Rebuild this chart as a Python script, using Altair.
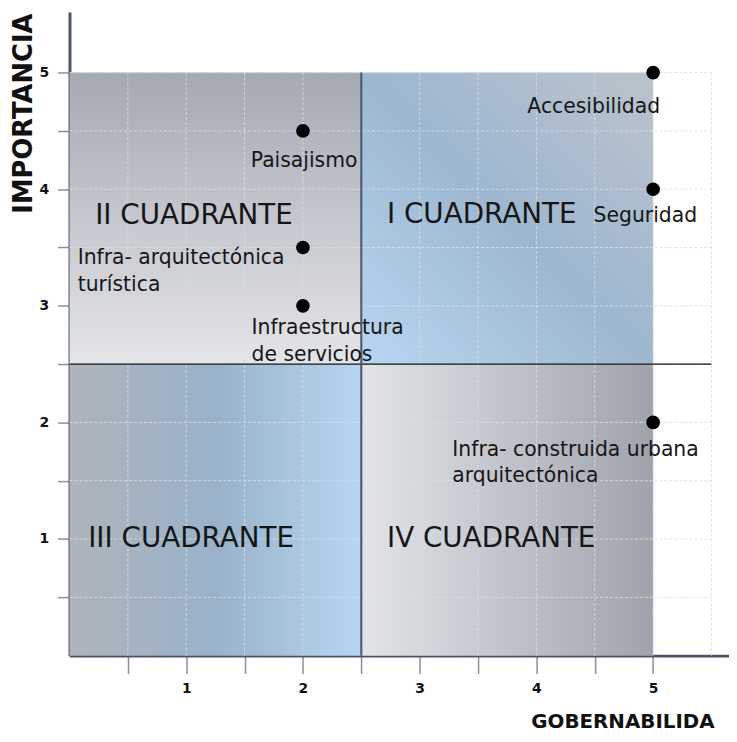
import altair as alt
import pandas as pd

# ---- data ----
point_names = ["Paisajismo", "Infra- arquitectónica turística", "Infraestructura de servicios",
               "Accesibilidad", "Seguridad", "Infra- construida urbana arquitectónica"]
gobernabilidad = [2, 2, 2, 5, 5, 5]
importancia = [4.5, 3.5, 3, 5, 4, 2]

# label anchor positions (data units)
label_text = ["Paisajismo", "Infra- arquitectónica\nturística", "Infraestructura\nde servicios",
              "Accesibilidad", "Seguridad", "Infra- construida urbana\narquitectónica"]
label_x = [2.01, 0.07, 1.56, 5.06, 4.49, 3.28]
label_y = [4.19, 3.36, 2.76, 4.65, 3.72, 1.715]
label_align = ["center", "left", "left", "right", "left", "left"]

quad_names = ["I CUADRANTE", "II CUADRANTE", "III CUADRANTE", "IV CUADRANTE"]
quad_x0 = [2.5, 0, 0, 2.5]
quad_x1 = [5, 2.5, 2.5, 5]
quad_y0 = [2.5, 2.5, 0, 0]
quad_y1 = [5, 5, 2.5, 2.5]
quad_label_x = [2.72, 0.22, 0.16, 2.72]
quad_label_y = [3.71, 3.70, 0.934, 0.934]

grid_v = [0.5, 1, 1.5, 2, 2.5, 3, 3.5, 4, 4.5, 5, 5.5]
grid_h = [0.5, 1, 1.5, 2, 2.5, 3, 3.5, 4, 4.5, 5]
grid_x_max = 5.5
grid_y_max = 5
divider = 2.5

tick_vals_x = [0.5, 1, 1.5, 2, 2.5, 3, 3.5, 4, 4.5, 5]
tick_vals_y = [0.5, 1, 1.5, 2, 2.5, 3, 3.5, 4, 4.5, 5]
x_domain = [0, 5.65]
y_domain = [0, 5.52]

# ---- tables ----
pts = pd.DataFrame({"name": point_names, "x": gobernabilidad, "y": importancia})
labs = pd.DataFrame({"text": label_text, "x": label_x, "y": label_y, "align": label_align})
quads = pd.DataFrame({"name": quad_names, "x0": quad_x0, "x1": quad_x1, "y0": quad_y0, "y1": quad_y1,
                      "lx": quad_label_x, "ly": quad_label_y})
gv = pd.DataFrame({"v": grid_v, "lo": 0, "hi": grid_y_max})
gh = pd.DataFrame({"v": grid_h, "lo": 0, "hi": grid_x_max})
div_h = pd.DataFrame({"y": [divider], "x0": [0], "x1": [grid_x_max]})
div_v = pd.DataFrame({"x": [divider], "y0": [0], "y1": [grid_y_max]})

AX = "#4a5466"
TEXTC = "#161616"
FONT = "DejaVu Sans"
LBL = "datum.value % 1 === 0 ? format(datum.value, 'd') : ''"

xs = alt.Scale(domain=x_domain, nice=False, zero=False)
ys = alt.Scale(domain=y_domain, nice=False, zero=False)

x_axis = alt.Axis(values=tick_vals_x, labelExpr=LBL,
                  tickSize=18, tickColor="#8a9099", tickWidth=1.5, domainColor=AX, domainWidth=3,
                  grid=False, labelFont=FONT, labelFontWeight="bold", labelFontSize=14, labelColor="#111",
                  labelPadding=8, title="GOBERNABILIDA", titleFont=FONT, titleFontSize=20,
                  titleFontWeight="bold", titleColor="#111", titleAlign="right", titleAnchor="end",
                  titleX=650, titleY=72, titleBaseline="alphabetic")
y_axis = alt.Axis(values=tick_vals_y, labelExpr=LBL,
                  tickSize=12, tickColor="#8a9099", tickWidth=1.5, domainColor=AX, domainWidth=3,
                  grid=False, labelFont=FONT, labelFontWeight="bold", labelFontSize=14, labelColor="#111",
                  labelPadding=9, title="IMPORTANCIA", titleFont=FONT, titleFontSize=26,
                  titleFontWeight="bold", titleColor="#111", titleAlign="right", titleAngle=270,
                  titleX=-46, titleY=1, titleBaseline="middle")

gradients = {
    "I CUADRANTE": {"gradient": "linear", "x1": 0, "y1": 1, "x2": 1, "y2": 0,
                    "stops": [{"offset": 0, "color": "#b8d6f2"}, {"offset": 0.5, "color": "#9db7d1"},
                              {"offset": 1, "color": "#bcc3cb"}]},
    "II CUADRANTE": {"gradient": "linear", "x1": 0, "y1": 0, "x2": 0, "y2": 1,
                     "stops": [{"offset": 0, "color": "#a4a9b2"}, {"offset": 1, "color": "#e4e5e8"}]},
    "III CUADRANTE": {"gradient": "linear", "x1": 0, "y1": 0, "x2": 1, "y2": 0,
                      "stops": [{"offset": 0, "color": "#aeb4bb"}, {"offset": 0.5, "color": "#99b2ca"},
                                {"offset": 1, "color": "#b7d6f2"}]},
    "IV CUADRANTE": {"gradient": "linear", "x1": 0, "y1": 0, "x2": 1, "y2": 0,
                     "stops": [{"offset": 0, "color": "#e2e4e8"}, {"offset": 1, "color": "#9ea3ac"}]},
}

base_q = alt.Chart(quads)
layers = []
for qn in quad_names:
    enc = dict(x=alt.X("x0:Q", scale=xs, axis=x_axis), x2="x1:Q",
               y=alt.Y("y0:Q", scale=ys, axis=y_axis), y2="y1:Q")
    layers.append(base_q.mark_rect(fill=gradients[qn], strokeWidth=0)
                  .transform_filter(alt.datum.name == qn).encode(**enc))

grid_vert = alt.Chart(gv).mark_rule(color="#dcdfe3", strokeWidth=1, strokeDash=[3, 2], opacity=0.85).encode(
    x=alt.X("v:Q", scale=xs), y=alt.Y("lo:Q", scale=ys), y2="hi:Q")
grid_horz = alt.Chart(gh).mark_rule(color="#dcdfe3", strokeWidth=1, strokeDash=[3, 2], opacity=0.85).encode(
    y=alt.Y("v:Q", scale=ys), x=alt.X("lo:Q", scale=xs), x2="hi:Q")

hline = alt.Chart(div_h).mark_rule(color="#111111", strokeWidth=1.5).encode(
    y=alt.Y("y:Q", scale=ys), x=alt.X("x0:Q", scale=xs), x2="x1:Q")
vline = alt.Chart(div_v).mark_rule(color=AX, strokeWidth=2).encode(
    x=alt.X("x:Q", scale=xs), y=alt.Y("y0:Q", scale=ys), y2="y1:Q")

points = alt.Chart(pts).mark_circle(size=190, color="#000000", opacity=1).encode(
    x=alt.X("x:Q", scale=xs), y=alt.Y("y:Q", scale=ys))

text_layers = []
for al in ["left", "center", "right"]:
    text_layers.append(alt.Chart(labs).transform_filter(alt.datum.align == al)
                       .mark_text(align=al, baseline="alphabetic", font=FONT, fontSize=20.5,
                                  color=TEXTC, lineBreak="\n", lineHeight=27)
                       .encode(x=alt.X("x:Q", scale=xs), y=alt.Y("y:Q", scale=ys), text="text:N"))

quad_text = alt.Chart(quads).mark_text(align="left", baseline="alphabetic", font=FONT, fontSize=28,
                                       color=TEXTC).encode(
    x=alt.X("lx:Q", scale=xs), y=alt.Y("ly:Q", scale=ys), text="name:N")

chart = alt.layer(*layers, grid_vert, grid_horz, hline, vline, points, *text_layers, quad_text).properties(
    width=665, height=649,
    background="white",
    autosize=alt.AutoSizeParams(type="none"),
    padding={"left": 62, "top": 1, "right": 0, "bottom": 76},
).configure_view(stroke="transparent", strokeWidth=0).configure_axis(grid=False)

chart.save("out.html", embed_options={"renderer": "svg", "actions": False})
